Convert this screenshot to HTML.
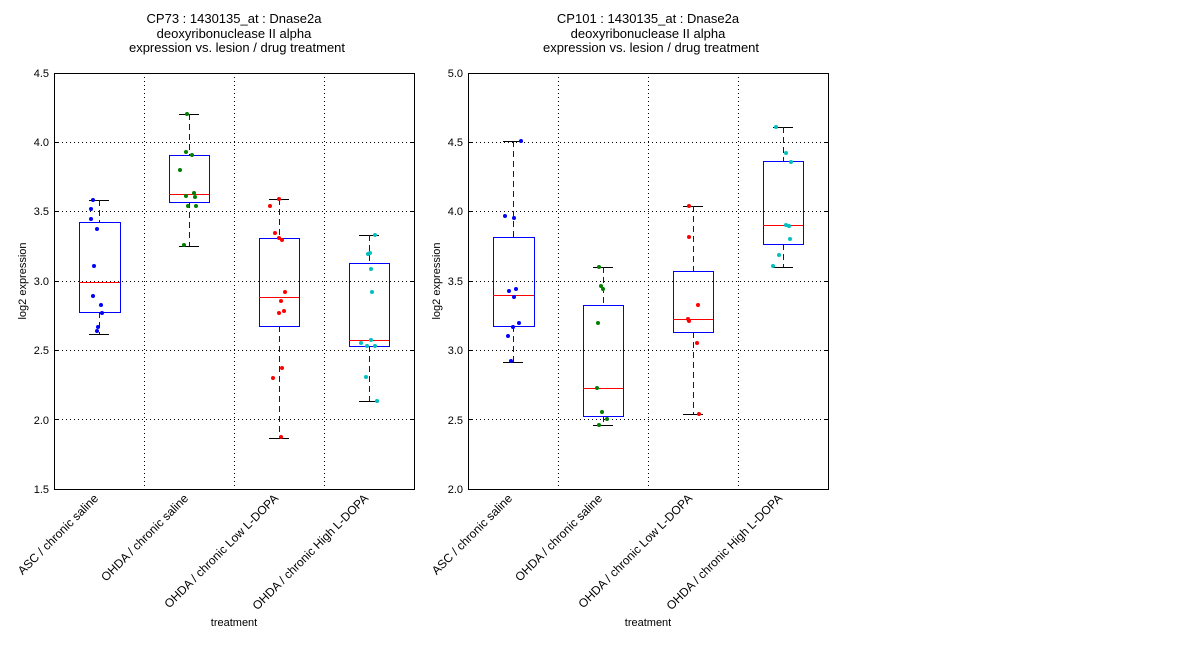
<!DOCTYPE html>
<html><head><style>body{margin:0;background:#fff}svg text{font-family:"Liberation Sans","DejaVu Sans",sans-serif}</style></head><body>
<svg width="1200" height="640" xmlns="http://www.w3.org/2000/svg" shape-rendering="crispEdges">
<rect width="1200" height="640" fill="#fff"/>
<g id="L">
<text x="234" y="23" font-size="13" text-anchor="middle">CP73 : 1430135_at : Dnase2a</text>
<text x="234" y="38" font-size="13" text-anchor="middle">deoxyribonuclease II alpha</text>
<text x="237" y="52" font-size="13" text-anchor="middle">expression vs. lesion / drug treatment</text>
<g stroke="#000" stroke-dasharray="1,3" stroke-width="1">
<line x1="54" x2="414" y1="142.5" y2="142.5"/><line x1="54" x2="414" y1="211.5" y2="211.5"/><line x1="54" x2="414" y1="281.5" y2="281.5"/><line x1="54" x2="414" y1="350.5" y2="350.5"/><line x1="54" x2="414" y1="419.5" y2="419.5"/>
<line x1="144.5" x2="144.5" y1="73" y2="489"/><line x1="234.5" x2="234.5" y1="73" y2="489"/><line x1="324.5" x2="324.5" y1="73" y2="489"/>
</g>
<g stroke="#000"><line x1="54" x2="58" y1="142.5" y2="142.5"/><line x1="54" x2="58" y1="211.5" y2="211.5"/><line x1="54" x2="58" y1="281.5" y2="281.5"/><line x1="54" x2="58" y1="350.5" y2="350.5"/><line x1="54" x2="58" y1="419.5" y2="419.5"/><line x1="410" x2="414" y1="142.5" y2="142.5"/><line x1="410" x2="414" y1="211.5" y2="211.5"/><line x1="410" x2="414" y1="281.5" y2="281.5"/><line x1="410" x2="414" y1="350.5" y2="350.5"/><line x1="410" x2="414" y1="419.5" y2="419.5"/></g>
<g font-size="11" text-anchor="end">
<text x="49" y="77">4.5</text><text x="49" y="146">4.0</text><text x="49" y="215">3.5</text><text x="49" y="285">3.0</text><text x="49" y="354">2.5</text><text x="49" y="424">2.0</text><text x="49" y="493">1.5</text>
</g>
<text transform="translate(26,281) rotate(-90)" font-size="11" text-anchor="middle">log2 expression</text>
<text x="234" y="626" font-size="11" text-anchor="middle">treatment</text>
<g font-size="12" text-anchor="end">
<text transform="translate(99,499) rotate(-45)">ASC / chronic saline</text>
<text transform="translate(189,499) rotate(-45)">OHDA / chronic saline</text>
<text transform="translate(279,499) rotate(-45)">OHDA / chronic Low L-DOPA</text>
<text transform="translate(369,499) rotate(-45)">OHDA / chronic High L-DOPA</text>
</g>
<g fill="none" stroke="#00f">
<rect x="79.5" y="222.5" width="41" height="90"/><rect x="169.5" y="155.5" width="40" height="47"/><rect x="259.5" y="238.5" width="40" height="88"/><rect x="349.5" y="263.5" width="40" height="83"/>
<g stroke="#000"><line x1="89" x2="109" y1="200.5" y2="200.5"/><line x1="89" x2="109" y1="334.5" y2="334.5"/><line x1="179" x2="199" y1="114.5" y2="114.5"/><line x1="179" x2="199" y1="246.5" y2="246.5"/><line x1="269" x2="289" y1="199.5" y2="199.5"/><line x1="269" x2="289" y1="438.5" y2="438.5"/><line x1="359" x2="379" y1="235.5" y2="235.5"/><line x1="359" x2="379" y1="401.5" y2="401.5"/></g>
<g stroke-dasharray="6,4"><line x1="99.5" x2="99.5" y1="200" y2="222"/><line x1="99.5" x2="99.5" y1="312" y2="334"/><line x1="189.5" x2="189.5" y1="114" y2="155"/><line x1="189.5" x2="189.5" y1="202" y2="246"/><line x1="279.5" x2="279.5" y1="199" y2="238"/><line x1="279.5" x2="279.5" y1="326" y2="438"/><line x1="369.5" x2="369.5" y1="235" y2="263"/><line x1="369.5" x2="369.5" y1="346" y2="401"/></g>
<g stroke="#f00"><line x1="79" x2="120" y1="282.5" y2="282.5"/><line x1="169" x2="209" y1="194.5" y2="194.5"/><line x1="259" x2="299" y1="297.5" y2="297.5"/><line x1="349" x2="389" y1="340.5" y2="340.5"/></g>
</g>
<g fill="#00f" shape-rendering="auto"><circle cx="93" cy="200" r="2"/><circle cx="91" cy="209" r="2"/><circle cx="91" cy="219" r="2"/><circle cx="97" cy="229" r="2"/><circle cx="94" cy="266" r="2"/><circle cx="93" cy="296" r="2"/><circle cx="101" cy="305" r="2"/><circle cx="102" cy="313" r="2"/><circle cx="98" cy="327" r="2"/><circle cx="97" cy="331" r="2"/></g>
<g fill="#007f00" shape-rendering="auto"><circle cx="187" cy="114" r="2"/><circle cx="186" cy="152" r="2"/><circle cx="192" cy="155" r="2"/><circle cx="180" cy="170" r="2"/><circle cx="194" cy="193" r="2"/><circle cx="186" cy="196" r="2"/><circle cx="195" cy="197" r="2"/><circle cx="188" cy="206" r="2"/><circle cx="196" cy="206" r="2"/><circle cx="184" cy="245" r="2"/></g>
<g fill="#f00" shape-rendering="auto"><circle cx="279" cy="199" r="2"/><circle cx="270" cy="206" r="2"/><circle cx="275" cy="233" r="2"/><circle cx="279" cy="238" r="2"/><circle cx="282" cy="240" r="2"/><circle cx="285" cy="292" r="2"/><circle cx="281" cy="301" r="2"/><circle cx="284" cy="311" r="2"/><circle cx="279" cy="313" r="2"/><circle cx="282" cy="368" r="2"/><circle cx="273" cy="378" r="2"/><circle cx="281" cy="437" r="2"/></g>
<g fill="#00bfbf" shape-rendering="auto"><circle cx="375" cy="235" r="2"/><circle cx="368" cy="254" r="2"/><circle cx="370" cy="253" r="2"/><circle cx="371" cy="269" r="2"/><circle cx="372" cy="292" r="2"/><circle cx="371" cy="340" r="2"/><circle cx="361" cy="343" r="2"/><circle cx="367" cy="346" r="2"/><circle cx="375" cy="346" r="2"/><circle cx="366" cy="377" r="2"/><circle cx="377" cy="401" r="2"/></g>
<rect x="54.5" y="73.5" width="360" height="416" fill="none" stroke="#000"/>
</g>
<g id="R">
<text x="648" y="23" font-size="13" text-anchor="middle">CP101 : 1430135_at : Dnase2a</text>
<text x="648" y="38" font-size="13" text-anchor="middle">deoxyribonuclease II alpha</text>
<text x="651" y="52" font-size="13" text-anchor="middle">expression vs. lesion / drug treatment</text>
<g stroke="#000" stroke-dasharray="1,3" stroke-width="1">
<line x1="468" x2="828" y1="142.5" y2="142.5"/><line x1="468" x2="828" y1="211.5" y2="211.5"/><line x1="468" x2="828" y1="281.5" y2="281.5"/><line x1="468" x2="828" y1="350.5" y2="350.5"/><line x1="468" x2="828" y1="419.5" y2="419.5"/>
<line x1="558.5" x2="558.5" y1="73" y2="489"/><line x1="648.5" x2="648.5" y1="73" y2="489"/><line x1="738.5" x2="738.5" y1="73" y2="489"/>
</g>
<g stroke="#000"><line x1="468" x2="472" y1="142.5" y2="142.5"/><line x1="468" x2="472" y1="211.5" y2="211.5"/><line x1="468" x2="472" y1="281.5" y2="281.5"/><line x1="468" x2="472" y1="350.5" y2="350.5"/><line x1="468" x2="472" y1="419.5" y2="419.5"/><line x1="824" x2="828" y1="142.5" y2="142.5"/><line x1="824" x2="828" y1="211.5" y2="211.5"/><line x1="824" x2="828" y1="281.5" y2="281.5"/><line x1="824" x2="828" y1="350.5" y2="350.5"/><line x1="824" x2="828" y1="419.5" y2="419.5"/></g>
<g font-size="11" text-anchor="end">
<text x="463" y="77">5.0</text><text x="463" y="146">4.5</text><text x="463" y="215">4.0</text><text x="463" y="285">3.5</text><text x="463" y="354">3.0</text><text x="463" y="424">2.5</text><text x="463" y="493">2.0</text>
</g>
<text transform="translate(440,281) rotate(-90)" font-size="11" text-anchor="middle">log2 expression</text>
<text x="648" y="626" font-size="11" text-anchor="middle">treatment</text>
<g font-size="12" text-anchor="end">
<text transform="translate(513,499) rotate(-45)">ASC / chronic saline</text>
<text transform="translate(603,499) rotate(-45)">OHDA / chronic saline</text>
<text transform="translate(693,499) rotate(-45)">OHDA / chronic Low L-DOPA</text>
<text transform="translate(783,499) rotate(-45)">OHDA / chronic High L-DOPA</text>
</g>
<g fill="none" stroke="#00f">
<rect x="493.5" y="237.5" width="41" height="89"/><rect x="583.5" y="305.5" width="40" height="111"/><rect x="673.5" y="271.5" width="40" height="61"/><rect x="763.5" y="161.5" width="40" height="83"/>
<g stroke="#000"><line x1="503" x2="523" y1="141.5" y2="141.5"/><line x1="503" x2="523" y1="362.5" y2="362.5"/><line x1="593" x2="613" y1="267.5" y2="267.5"/><line x1="593" x2="613" y1="425.5" y2="425.5"/><line x1="683" x2="703" y1="206.5" y2="206.5"/><line x1="683" x2="703" y1="414.5" y2="414.5"/><line x1="773" x2="793" y1="127.5" y2="127.5"/><line x1="773" x2="793" y1="267.5" y2="267.5"/></g>
<g stroke-dasharray="6,4"><line x1="513.5" x2="513.5" y1="141" y2="237"/><line x1="513.5" x2="513.5" y1="326" y2="362"/><line x1="603.5" x2="603.5" y1="267" y2="305"/><line x1="603.5" x2="603.5" y1="416" y2="425"/><line x1="693.5" x2="693.5" y1="206" y2="271"/><line x1="693.5" x2="693.5" y1="332" y2="414"/><line x1="783.5" x2="783.5" y1="127" y2="161"/><line x1="783.5" x2="783.5" y1="244" y2="267"/></g>
<g stroke="#f00"><line x1="493" x2="534" y1="295.5" y2="295.5"/><line x1="583" x2="623" y1="388.5" y2="388.5"/><line x1="673" x2="713" y1="319.5" y2="319.5"/><line x1="763" x2="803" y1="225.5" y2="225.5"/></g>
</g>
<g fill="#00f" shape-rendering="auto"><circle cx="521" cy="141" r="2"/><circle cx="505" cy="216" r="2"/><circle cx="514" cy="218" r="2"/><circle cx="516" cy="289" r="2"/><circle cx="509" cy="291" r="2"/><circle cx="514" cy="297" r="2"/><circle cx="519" cy="323" r="2"/><circle cx="513" cy="327" r="2"/><circle cx="508" cy="336" r="2"/><circle cx="511" cy="361" r="2"/></g>
<g fill="#007f00" shape-rendering="auto"><circle cx="599" cy="267" r="2"/><circle cx="601" cy="286" r="2"/><circle cx="603" cy="289" r="2"/><circle cx="598" cy="323" r="2"/><circle cx="597" cy="388" r="2"/><circle cx="602" cy="412" r="2"/><circle cx="607" cy="419" r="2"/><circle cx="599" cy="425" r="2"/></g>
<g fill="#f00" shape-rendering="auto"><circle cx="689" cy="206" r="2"/><circle cx="689" cy="237" r="2"/><circle cx="698" cy="305" r="2"/><circle cx="688" cy="319" r="2"/><circle cx="689" cy="321" r="2"/><circle cx="697" cy="343" r="2"/><circle cx="699" cy="414" r="2"/></g>
<g fill="#00bfbf" shape-rendering="auto"><circle cx="776" cy="127" r="2"/><circle cx="786" cy="153" r="2"/><circle cx="791" cy="162" r="2"/><circle cx="779" cy="255" r="2"/><circle cx="786" cy="225" r="2"/><circle cx="789" cy="226" r="2"/><circle cx="790" cy="239" r="2"/><circle cx="773" cy="266" r="2"/></g>
<rect x="468.5" y="73.5" width="360" height="416" fill="none" stroke="#000"/>
</g>
</svg>
</body></html>
